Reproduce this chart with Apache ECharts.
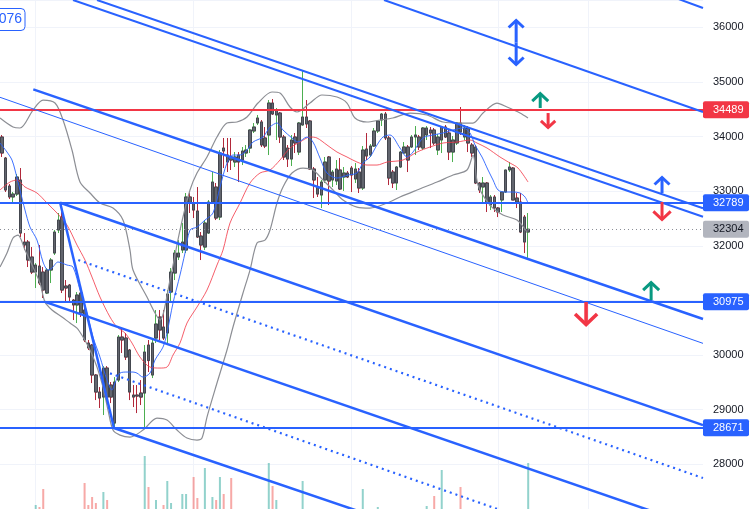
<!DOCTYPE html>
<html><head><meta charset="utf-8">
<script src="https://cdn.jsdelivr.net/npm/echarts@6/dist/echarts.min.js"></script>
<style>html,body{margin:0;padding:0;background:#fff}#c{width:755px;height:509px}</style>
</head><body><div id="c"></div>
<script>
// ---------- DATA ----------
// candles: [open, close, low, high]
const candles = [
[33992,33699,33626,34029],[33607,33022,32985,33626],[33095,32894,32857,33131],[32894,32948,32784,32985],
[32948,33260,32912,33315],[33205,32234,32161,33424],[32070,32015,31923,32234],[32070,31740,31612,32106],
[31795,31520,31484,31978],[31520,31649,31228,31685],[31630,31319,31282,32015],[31520,31191,31045,31612],
[31136,31557,31118,31594],[31557,31740,31319,31777],[31868,32253,31832,32289],[32289,32472,32234,32601],
[32527,31191,31136,32789],[31264,31228,30971,31374],[31282,31063,30971,31301],[31008,30917,30642,31026],
[30917,31100,30587,31154],[31136,30770,30697,31154],[30825,30276,30239,30880],[30221,30130,30093,30276],
[30184,29635,29488,30203],[29635,29324,29177,29653],[29324,29214,29031,29415],[29232,29763,28903,29799],
[29763,29232,29122,29799],[29452,29232,29122,29507],[28756,29507,28671,29598],[29543,30331,29507,30367],
[30331,30276,30038,30496],[30312,29964,29910,30404],[30093,29324,29177,30110],[29269,29232,29049,29452],
[29269,29250,28939,29452],[29305,29232,29086,29543],[29305,30056,28683,30184],[30184,29900,29690,30276],
[29635,30221,29580,30276],[30312,30569,30221,30825],[30697,30459,30276,30825],[30514,30312,30276,30825],
[30404,31118,30221,31191],[31154,31520,30954,31594],[31502,31868,31374,31923],[31795,31868,31740,32106],
[31923,32070,31868,32417],[31923,32894,31868,32967],[32894,32784,32601,32967],[32784,32655,32509,32894],
[32637,32161,32143,33076],[32179,32015,31740,32253],[31978,32417,31923,32472],[32234,32802,32220,32839],
[32802,33168,32784,33351],[33076,32509,32472,33150],[32527,33699,32472,33754],[33790,33736,33424,33974],
[33662,33534,33351,33974],[33626,33571,33388,33974],[33534,33626,33443,33717],[33662,33534,33168,33717],
[33571,33736,33479,33809],[33699,33754,33626,33845],[33790,34120,33699,34130],[34102,34175,34065,34248],
[34248,34340,34212,34395],[34267,33846,33809,34303],[33974,33827,33790,34175],[34029,34614,33662,34669],
[34614,34413,34395,34688],[34395,34486,33937,34523],[34431,33992,33882,34450],[33992,33626,33571,34029],
[33790,33589,33443,33845],[33589,33937,33461,34029],[33992,33882,33699,34065],[33717,34248,33662,34267],
[34212,34358,34200,35218],[34358,34230,34157,34669],[34285,33406,33388,34303],[33406,33205,32875,33443],
[33077,32948,32894,33260],[32930,33168,32692,33205],[33205,33534,33150,33626],[33626,33186,32747,33644],
[33205,33351,33077,33388],[33186,33406,33113,33571],[33388,33040,33022,33607],[33260,33333,33004,33443],
[33333,33260,33241,33369],[33424,33296,32985,33461],[33223,33406,33150,33516],[33351,33058,32967,33424],
[33058,33754,33022,33827],[33772,33644,33571,34065],[33662,33827,33626,33864],[33827,34102,33809,34157],
[34102,34285,34065,34303],[34303,34413,34193,34431],[34413,33974,33937,34450],[33974,33241,33113,34010],
[33351,33150,33058,33388],[33150,33443,33022,33461],[33443,33717,33424,33736],[33699,33809,33681,33900],
[33809,33571,33351,33845],[33809,33992,33790,34029],[33992,34029,33662,34193],[33992,33809,33754,34029],
[33790,34157,33754,34175],[34029,34157,33937,34193],[34120,34065,33790,34175],[34120,33882,33846,34157],
[33754,33992,33662,34047],[33937,34175,33699,34193],[34175,33992,33974,34212],[34065,33717,33571,34120],
[33717,33937,33534,34010],[33882,34248,33846,34267],[34248,34083,34029,34541],[33992,34157,33937,34212],
[34157,33882,33717,34193],[33846,33699,33626,33882],[33809,33150,33131,33846],[33150,33022,32967,33168],
[33077,33150,32802,33260],[33150,32784,32619,33168],[32747,32894,32655,32930],[32894,32692,32619,32930],
[32692,32619,32527,32710],[32839,32985,32619,32985],[32985,33388,32967,33388],[33388,33443,33351,33534],
[33424,32839,32839,33443],[32875,32802,32692,32967],[32802,32253,32234,32967],[32527,32070,31868,32564],
[32253,32304,31780,32601]
];
const volumes = [
12,15,10,8,14,18,9,11,13,25,23,41,10,12,16,14,19,9,11,13,15,17,47,25,33,27,14,38,30,12,
18,16,10,13,15,9,11,12,74,43,16,30,14,25,49,27,18,13,36,36,17,53,32,15,62,19,33,30,53,36,
14,52,12,10,15,11,17,9,13,16,12,67,44,30,15,17,11,14,9,16,49,18,15,12,10,14,11,17,9,13,
15,8,10,12,11,14,41,16,10,13,23,12,18,19,11,13,10,9,14,12,16,11,13,24,15,34,12,60,14,17,
11,13,43,10,15,12,19,11,16,14,10,13,9,12,15,11,17,14,18,19,67
];
// indicator curves: [bar position, price]
const bbUpper = [[0,34340],[3.46,34175],[5.32,34157],[8.78,34486],[11.44,34669],[14.63,34614],[16.76,34303],[19.15,33754],[21.28,33168],[23.94,32967],[26.6,32784],[30.06,32692],[32.72,32472],[34.58,31923],[35.38,31557],[39.1,31063],[41.23,30770],[42.56,30642],[45.22,31374],[47.88,32289],[50.54,33022],[52.4,33333],[55.06,33626],[57.72,33992],[60.38,34248],[63.04,34267],[65.7,34358],[68.63,34614],[72.35,34816],[74.48,34797],[77.14,34541],[79.0,34450],[82.46,34614],[85.65,34761],[89.64,34724],[92.3,34614],[94.43,34340],[97.62,34267],[101.08,34303],[104.5,34340],[109.06,34431],[113.58,34395],[117.84,34267],[122.36,34248],[125.82,34248],[128.48,34431],[132.2,34614],[134.86,34541],[138.32,34431],[140.45,34340]];
const bbLower = [[0,31612],[1.86,31868],[3.46,32143],[4.79,32198],[6.65,31923],[8.78,31612],[10.64,31319],[11.97,30971],[13.83,30825],[16.49,30697],[18.62,30587],[20.48,30495],[22.08,30331],[23.94,30093],[25.8,29781],[27.4,29415],[28.73,28994],[30.06,28628],[31.92,28536],[34.58,28500],[38.04,28628],[41.76,28848],[44.42,28811],[47.08,28628],[49.74,28482],[52.4,28445],[53.73,28482],[55.06,28866],[57.72,29489],[60.38,30093],[61.98,30514],[64.64,31136],[66.5,31557],[68.36,32051],[70.49,32106],[71.82,32289],[73.68,32784],[75.28,33077],[77.67,33333],[80.6,33424],[83.26,33388],[85.92,33205],[88.58,33022],[91.24,32839],[94.96,32710],[98.42,32692],[102.95,32784],[106.4,32894],[110.93,33022],[116.25,33168],[120.5,33296],[124.22,33388],[125.82,33662],[127.15,33113],[130.34,32747],[133.8,32564],[137.52,32472],[140.18,32253]];
const maFast = [[0,33882],[1.86,33717],[3.19,33571],[3.99,33388],[5.32,33022],[6.65,32655],[7.98,32344],[9.84,32106],[11.44,31704],[12.77,31557],[13.83,31594],[15.43,31704],[17.82,31649],[19.42,31612],[21.28,31191],[23.14,30770],[24.74,30331],[26.6,29964],[28.46,29543],[29.79,29360],[30.59,29489],[31.92,29671],[33.78,29690],[35.38,29690],[36.44,29671],[38.04,29598],[39.9,29671],[41.23,29910],[43.36,30147],[44.42,30404],[46.02,30953],[47.88,31466],[49.21,31868],[50.54,32289],[52.4,32344],[54.53,32472],[56.66,32601],[58.53,33077],[60.38,33516],[61.98,33662],[63.85,33662],[65.7,33754],[67.3,33900],[69.96,33992],[71.82,34175],[73.68,34248],[75.28,34120],[77.67,33974],[79.27,33900],[81.66,33992],[83.26,33900],[85.12,33607],[86.98,33333],[89.64,33241],[92.57,33296],[94.96,33333],[96.56,33516],[98.42,33626],[100.28,33846],[101.88,33992],[103.74,34029],[106.4,33790],[108.27,33626],[109.86,33717],[112.52,33974],[115.18,34029],[117.84,34065],[120.5,34120],[123.16,34157],[125.03,34065],[126.36,33846],[128.22,33626],[129.82,33388],[131.15,33205],[132.48,33022],[134.34,32985],[136.47,32985],[138.33,32967],[139.66,32894],[140.46,32784]];
const maSlow = [[0,33022],[2.66,33168],[4.52,33205],[6.65,33077],[9.84,32967],[12.5,32784],[15.16,32601],[17.82,32381],[20.48,32015],[22.61,31740],[24.47,31429],[26.6,31063],[29.26,30697],[31.12,30514],[33.25,30404],[35.11,30221],[37.24,29964],[39.9,29781],[42.56,29763],[44.42,29781],[46.02,30001],[47.88,30221],[49.74,30587],[52.4,30880],[55.06,31191],[57.72,31649],[59.32,31923],[61.18,32417],[63.85,32784],[66.5,33150],[69.16,33333],[71.82,33388],[74.48,33571],[77.14,33790],[79.8,33900],[82.46,33992],[84.32,33974],[86.98,33846],[89.64,33717],[92.3,33626],[94.96,33534],[97.62,33479],[100.28,33479],[102.95,33534],[107.2,33571],[110.93,33717],[114.39,33809],[117.84,33882],[121.57,33900],[125.03,33937],[126.89,33882],[129.55,33790],[133.0,33626],[135.67,33516],[137.8,33424],[140.46,33168]];
// drawn trend lines: [[bar position, price],[bar position, price]]
const channelLines = [
  [[19.42,36500],[187,32533]], [[25.8,36500],[187,32687]],
  [[102.15,36500],[187,34450]], [[170,36783],[187,36354]]
];
const thickLines = [
  [[8.86,34865],[187,30660]], [[16.0,32789],[187,28719]], [[16.0,32789],[30.3,28671]],
  [[11.97,30975],[187,26821]], [[30.1,28671],[187,25000]]
];
const thinLines = [ [[0,34719],[187,30215]] ];
const dottedLines = [ [[20.83,31740],[187,27749]], [[29.26,29666],[187,25865]] ];
const supportResistance = [34489, 32789, 30975, 28671];
const lastPrice = 32304;
const timeGridBars = [9, 51, 93, 132, 156];
// signal arrows: [bar position, price from, price to]
const blueArrows = [[137.3,35722,36134],[137.3,35722,35310],[176.1,32967,33260]];
const buyArrows = [[143.7,34523,34797],[173.2,31008,31337]];
const sellArrows = [[145.8,34431,34157],[176.1,32802,32472],[155.9,30971,30550]];
const cutLabel = '076';

// ---------- CHART ----------
const N_SLOTS = 187;
const slots = Array.from({length: N_SLOTS}, (_, i) => String(i));
const FONT = '"Liberation Sans", Arial, sans-serif';
const BLUE = '#2962ff', RED = '#f23645', GREEN = '#089981';
const chart = echarts.init(document.getElementById('c'));

function lineSeries(data, color, width, type, z, smooth) {
  return {type:'line', xAxisIndex:1, yAxisIndex:0, data, symbol:'none', showSymbol:false, silent:true,
    smooth: smooth || false, z: z, lineStyle:{color, width, type: type || 'solid'}, animation:false};
}

const series = [];
series.push({type:'line', xAxisIndex:1, yAxisIndex:0, data:[[0,36400]], symbol:'none', silent:true, z:1,
  lineStyle:{opacity:0},
  markLine:{silent:true, symbol:'none', z:1, animation:false, label:{show:false},
    lineStyle:{color:'#f0f3fa', width:1, type:'solid'},
    data: timeGridBars.map(i => ({xAxis: i + 0.5}))}});
series.push({type:'bar', xAxisIndex:2, yAxisIndex:1, barWidth:2, silent:true, z:1,
  data: volumes.map((v, i) => ({value: v, itemStyle:{color: candles[i][1] >= candles[i][0] ? 'rgba(38,166,154,0.5)' : 'rgba(239,83,80,0.5)'}}))});
series.push({type:'candlestick', xAxisIndex:0, yAxisIndex:0, data:candles, barWidth:3, silent:true, z:2,
  itemStyle:{color:'rgba(0,0,0,0)', color0:'rgba(0,0,0,0)', borderColor:'#4caf50', borderColor0:'#b2283a', borderWidth:1}});
series.push({type:'candlestick', xAxisIndex:0, yAxisIndex:0, silent:true, z:2, barWidth:3,
  data: candles.map(([o, c]) => [o, c, Math.min(o, c), Math.max(o, c)]),
  itemStyle:{color:'#62656e', color0:'#62656e', borderColor:'#44474f', borderColor0:'#44474f', borderWidth:1}});
series.push(lineSeries(bbUpper, '#8c8e94', 1.2, 'solid', 3, 0.3));
series.push(lineSeries(bbLower, '#8c8e94', 1.2, 'solid', 3, 0.3));
series.push(lineSeries(maSlow, 'rgba(242,54,69,0.8)', 1, 'solid', 3, 0.3));
series.push(lineSeries(maFast, 'rgba(41,98,255,0.9)', 1, 'solid', 3, 0.3));
channelLines.forEach(l => series.push(lineSeries(l, BLUE, 2, 'solid', 4)));
thickLines.forEach(l => series.push(lineSeries(l, BLUE, 2.5, 'solid', 4)));
thinLines.forEach(l => series.push(lineSeries(l, BLUE, 1, 'solid', 4)));
dottedLines.forEach(l => series.push(lineSeries(l, BLUE, 2.2, [2, 4], 4)));
series.push({type:'line', xAxisIndex:1, yAxisIndex:0, data:[[0,36400]], symbol:'none', silent:true, z:4,
  lineStyle:{opacity:0},
  markLine:{silent:true, symbol:'none', z:4, animation:false, label:{show:false},
    data: supportResistance.map((v, i) => ({yAxis: v, lineStyle:{color: i === 0 ? RED : BLUE, width: 2.2, type:'solid'}}))
      .concat([{yAxis: lastPrice, lineStyle:{color:'#8a8d96', width:1, type:[1, 3]}}])}});

chart.setOption({
  animation:false,
  backgroundColor:'#ffffff',
  grid:[
    {left:0, right:52, top:0, bottom:-10, outerBoundsMode:'none', containLabel:false},
    {left:0, right:52, top:409, bottom:-21, outerBoundsMode:'none', containLabel:false}
  ],
  xAxis:[
    {type:'category', data:slots, gridIndex:0, show:false, boundaryGap:true},
    {type:'value', min:0, max:N_SLOTS, gridIndex:0, show:false},
    {type:'category', data:slots, gridIndex:1, show:false, boundaryGap:true}
  ],
  yAxis:[
    {type:'value', gridIndex:0, position:'right', min:27000, max:36500, interval:1000,
      axisLine:{show:false}, axisTick:{show:false},
      splitLine:{show:true, lineStyle:{color:'#f0f3fa', width:1}},
      axisLabel:{color:'#131722', fontSize:11, fontFamily:FONT, margin:10, showMaxLabel:false, showMinLabel:false,
        formatter: v => String(v)}},
    {type:'value', gridIndex:1, min:0, max:121, show:false}
  ],
  series
});

// ---------- ANNOTATIONS ----------
const gfx = [];
const toPx = (xv, p) => chart.convertToPixel({xAxisIndex:1, yAxisIndex:0}, [xv, p]);
const yPx = p => chart.convertToPixel({yAxisIndex:0}, p);
const rightEdge = chart.convertToPixel({xAxisIndex:1}, N_SLOTS);

function arrow(a, color, head, width) {
  const [x, y0] = toPx(a[0], a[1]);
  const y1 = toPx(a[0], a[2])[1];
  const dir = y1 < y0 ? 1 : -1;
  gfx.push({type:'line', silent:true, z:100, shape:{x1:x, y1:y0, x2:x, y2:y1}, style:{stroke:color, lineWidth:width}});
  gfx.push({type:'polyline', silent:true, z:100, shape:{points:[[x - head, y1 + dir * head], [x, y1 + dir * 0.5], [x + head, y1 + dir * head]]},
    style:{stroke:color, lineWidth:width, fill:null, lineJoin:'miter'}});
}
blueArrows.forEach(a => arrow(a, BLUE, 7.5, 3));
buyArrows.forEach(a => arrow(a, GREEN, 8, 3));
sellArrows.forEach(a => { const len = Math.abs(yPx(a[1]) - yPx(a[2])); arrow(a, RED, Math.min(11.5, len * 0.48), len > 20 ? 3.6 : 3); });

function tag(value, bg, fg) {
  const y = yPx(value);
  gfx.push({type:'rect', silent:true, z:110, shape:{x:rightEdge, y:y - 8.5, width:46, height:17, r:2}, style:{fill:bg}});
  gfx.push({type:'text', silent:true, z:111, style:{x:rightEdge + 10, y:y, text:String(value), fill:fg, font:'11px ' + FONT, align:'left', verticalAlign:'middle'}});
}
supportResistance.forEach((v, i) => tag(v, i === 0 ? RED : BLUE, '#ffffff'));
tag(lastPrice, '#b2b5be', '#131722');

gfx.push({type:'rect', silent:true, z:110, shape:{x:-40, y:8.5, width:65, height:22, r:4}, style:{fill:'#ffffff', stroke:BLUE, lineWidth:1}});
gfx.push({type:'text', silent:true, z:111, style:{x:22, y:19.5, text:cutLabel, fill:BLUE, font:'14px ' + FONT, align:'right', verticalAlign:'middle'}});

chart.setOption({graphic: gfx});
</script>
</body></html>
